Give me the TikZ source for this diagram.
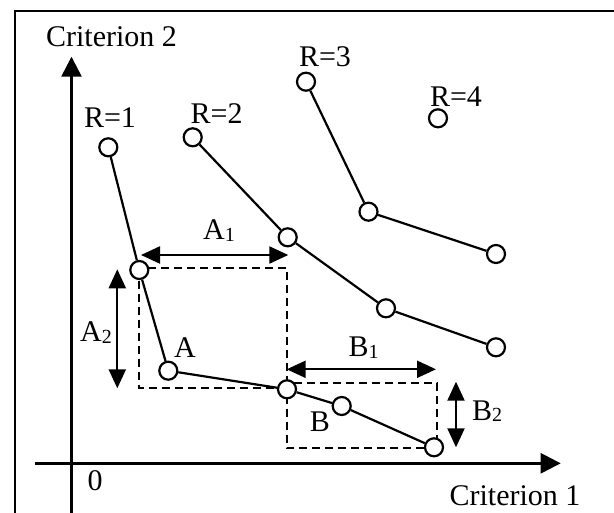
\documentclass[tikz,border=0pt]{standalone}
\usepackage{fontspec}
\setmainfont{Liberation Serif}
\usetikzlibrary{arrows.meta}
\newcommand{\subnum}[1]{\raisebox{-1.5pt}{\fontsize{20}{20}\selectfont #1}}
\begin{document}
\begin{tikzpicture}[x=1pt,y=-1pt,
  pt/.style={circle,draw,fill=white,line width=2.2pt,minimum size=18pt,inner sep=0pt},
  seg/.style={line width=2.2pt},
  lbl/.style={font=\fontsize{30}{30}\selectfont,anchor=base,inner sep=0pt},
  dsh/.style={line width=2pt,dash pattern=on 8pt off 5pt},
  dbl/.style={line width=2.2pt,{Triangle[length=19pt,width=17pt]}-{Triangle[length=19pt,width=17pt]}},
  axis/.style={line width=2.5pt,-{Triangle[length=20pt,width=20pt]}}]
\useasboundingbox (0,0) rectangle (614,513);
% frame
\coordinate (fbl) at (15,513);
\coordinate (ftl) at (15,11);
\coordinate (ftr) at (614,11);
\draw[line width=2.5pt] (fbl) -- (ftl) -- (ftr);
% axes
\coordinate (xs) at (35,463.3);
\coordinate (xe) at (560.7,463.3);
\coordinate (ys) at (71.5,513);
\coordinate (ye) at (71.5,56.7);
\draw[axis] (xs) -- (xe);
\draw[axis] (ys) -- (ye);
% dashed boxes
\coordinate (ba1) at (139.3,267.7);
\coordinate (ba2) at (287,388.3);
\coordinate (bb1) at (287,382.7);
\coordinate (bb2) at (436.7,448.3);
\draw[dsh] (ba1) rectangle (ba2);
\draw[dsh] (bb1) rectangle (bb2);
% points
\node[pt] (r1a) at (108.3,147.3) {};
\node[pt] (r1b) at (139.3,270) {};
\node[pt] (r1c) at (168.3,370.7) {};
\node[pt] (r1d) at (287,389.3) {};
\node[pt] (r1e) at (341.7,406) {};
\node[pt] (r1f) at (434,447.3) {};
\node[pt] (r2a) at (192.7,137.3) {};
\node[pt] (r2b) at (287.7,237.3) {};
\node[pt] (r2c) at (386,308.3) {};
\node[pt] (r2d) at (496,347.3) {};
\node[pt] (r3a) at (306,81.7) {};
\node[pt] (r3b) at (368.5,211.7) {};
\node[pt] (r3c) at (496,254) {};
\node[pt] (r4) at (438,118.3) {};
% connectors
\draw[seg] (r1a) -- (r1b) -- (r1c) -- (r1d) -- (r1e) -- (r1f);
\draw[seg] (r2a) -- (r2b) -- (r2c) -- (r2d);
\draw[seg] (r3a) -- (r3b) -- (r3c);
% double arrows
\coordinate (a1l) at (141,255);
\coordinate (a1r) at (288.3,255);
\coordinate (a2t) at (117.3,269.3);
\coordinate (a2b) at (117.3,388.3);
\coordinate (b1l) at (286.7,369.3);
\coordinate (b1r) at (436,369.3);
\coordinate (b2t) at (456,381.7);
\coordinate (b2b) at (456,447.3);
\draw[dbl] (a1l) -- (a1r);
\draw[dbl] (a2t) -- (a2b);
\draw[dbl] (b1l) -- (b1r);
\draw[dbl] (b2t) -- (b2b);
% labels
\node[lbl] (c2) at (111.5,46.7) {Criterion 2};
\node[lbl] (c1) at (515,505) {Criterion 1};
\node[lbl] (zero) at (95,490) {0};
\node[lbl] (lr1) at (110,127.3) {R=1};
\node[lbl] (lr2) at (216.7,123.3) {R=2};
\node[lbl] (lr3) at (325,66.7) {R=3};
\node[lbl] (lr4) at (456,106.7) {R=4};
\node[lbl,anchor=base west] (la1) at (203,240) {A\subnum{1}};
\node[lbl,anchor=base west] (la2) at (80,341.7) {A\subnum{2}};
\node[lbl] (la) at (185,358) {A};
\node[lbl,anchor=base west] (lb1) at (348.5,356.7) {B\subnum{1}};
\node[lbl] (lb) at (320,431.7) {B};
\node[lbl,anchor=base west] (lb2) at (472,420.5) {B\subnum{2}};
\end{tikzpicture}
\end{document}
